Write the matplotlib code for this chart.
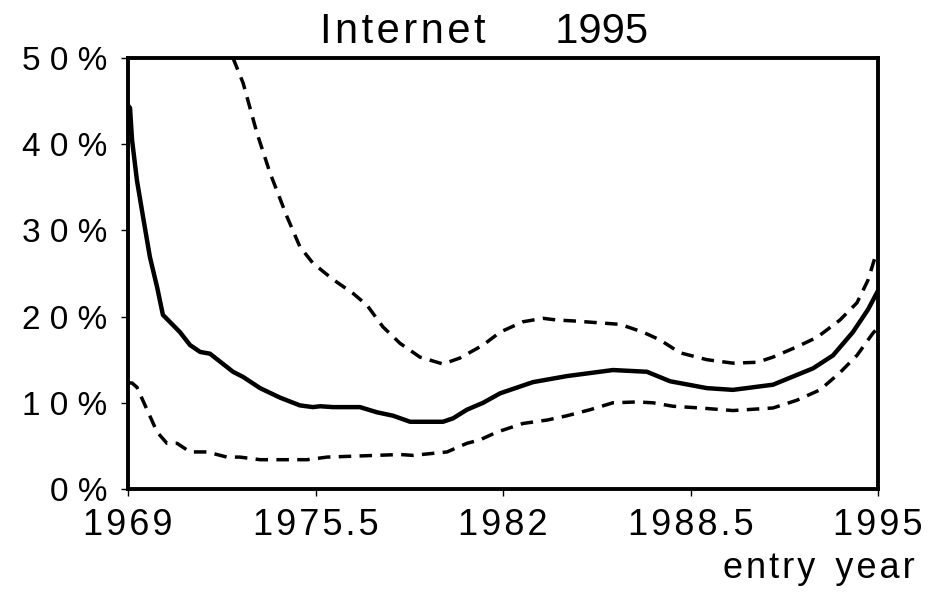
import matplotlib
matplotlib.use("Agg")
import matplotlib.pyplot as plt

# ---- data ----
years_mid = [1969.0, 1969.07, 1969.14, 1969.31, 1969.52, 1969.76, 1970.01, 1970.21,
             1970.80, 1971.15, 1971.50, 1971.84, 1972.64, 1972.99, 1973.58, 1974.27,
             1974.96, 1975.41, 1975.66, 1976.11, 1977.04, 1977.63, 1978.19, 1978.78,
             1979.92, 1980.27, 1980.75, 1981.31, 1981.90, 1983.04, 1984.22, 1985.81,
             1986.99, 1987.79, 1989.07, 1989.97, 1991.36, 1992.75, 1993.44, 1994.13,
             1994.65, 1995.0]
mid = [44.5, 44.2, 40.5, 35.8, 31.6, 26.9, 23.4, 20.2,
       18.2, 16.7, 15.9, 15.7, 13.6, 13.0, 11.7, 10.6,
       9.7, 9.5, 9.6, 9.5, 9.5, 8.9, 8.5, 7.8,
       7.8, 8.2, 9.2, 10.0, 11.1, 12.4, 13.1, 13.8,
       13.6, 12.5, 11.7, 11.5, 12.1, 14.0, 15.5, 18.2,
       20.8, 23.0]

years_up = [1972.64, 1972.99, 1973.47, 1973.92, 1974.51, 1974.96, 1975.41, 1976.11,
            1976.80, 1977.29, 1977.84, 1978.43, 1979.12, 1979.92, 1980.51, 1981.31,
            1981.90, 1982.69, 1983.39, 1983.87, 1984.43, 1986.06, 1986.85, 1987.44,
            1988.14, 1989.07, 1989.97, 1990.81, 1991.36, 1992.19, 1992.89, 1993.68,
            1994.27, 1994.65, 1994.90, 1995.0]
upper = [50.0, 47.1, 41.3, 36.7, 31.6, 28.1, 26.2, 24.3,
         22.7, 21.3, 18.8, 16.9, 15.3, 14.5, 15.2, 16.7,
         18.2, 19.4, 19.8, 19.6, 19.5, 19.1, 18.2, 17.3,
         15.8, 15.0, 14.6, 14.7, 15.3, 16.5, 17.6, 19.6,
         21.6, 24.2, 26.9, 27.5]

years_lo = [1969.0, 1969.14, 1969.31, 1969.66, 1970.01, 1970.35, 1970.70, 1971.15,
            1971.74, 1972.43, 1972.88, 1973.58, 1975.21, 1975.90, 1978.43, 1978.88,
            1980.06, 1980.75, 1981.20, 1981.79, 1982.69, 1983.53, 1984.22, 1985.02,
            1985.81, 1986.65, 1987.20, 1987.89, 1988.83, 1989.97, 1991.36, 1992.19,
            1992.99, 1993.68, 1994.27, 1994.83, 1995.0]
lower = [12.3, 12.3, 11.8, 9.2, 6.6, 5.3, 5.3, 4.3,
         4.3, 3.7, 3.7, 3.4, 3.4, 3.7, 4.0, 3.9,
         4.3, 5.3, 5.7, 6.6, 7.6, 8.0, 8.5, 9.2,
         10.0, 10.1, 10.0, 9.6, 9.4, 9.1, 9.4, 10.3,
         11.5, 13.5, 15.5, 18.1, 18.7]

x_ticks = [1969, 1975.5, 1982, 1988.5, 1995]
x_tick_labels = ["1969", "1975.5", "1982", "1988.5", "1995"]
y_ticks = [0, 10, 20, 30, 40, 50]
y_tick_labels = ["0%", "10%", "20%", "30%", "40%", "50%"]
title = "Internet 1995"
x_label = "entry year"

# ---- figure ----
plt.rcParams['font.family'] = ['Liberation Sans', 'DejaVu Sans']
fig = plt.figure(figsize=(9.41, 6.01), dpi=100)
ax = fig.add_axes([128/941, 1 - 489/601, 750/941, 431/601])

ax.plot(years_mid, mid, color='black', lw=3.2, solid_joinstyle='round')
ax.plot(years_up, upper, color='black', lw=2.5, dashes=(3.6, 2.4))
ax.plot(years_lo, lower, color='black', lw=2.5, dashes=(3.6, 2.4))

ax.set_xlim(1969, 1995)
ax.set_ylim(0, 50)

def spaced(s, sep):
    return sep.join(list(s))

HAIR = "\u200a"

ax.set_xticks(x_ticks)
ax.set_xticklabels([spaced(s, HAIR) for s in x_tick_labels], fontsize=26)
ax.set_yticks(y_ticks)
ax.set_yticklabels([spaced(s, " ") for s in y_tick_labels], fontsize=24)
ax.tick_params(axis='both', direction='out', length=5, width=1.0, color='black')
ax.tick_params(axis='x', pad=9)
ax.tick_params(axis='y', pad=10)

for sp in ax.spines.values():
    sp.set_linewidth(2.8)
    sp.set_color('black')

t_words = title.split(" ")
fig.text(320/941, 1 - 43/601, spaced(t_words[0], HAIR) + "      " + t_words[1],
         fontsize=30, ha='left', va='baseline')
xl_words = x_label.split(" ")
fig.text(915/941, 1 - 578/601, spaced(xl_words[0], HAIR) + "  " + spaced(xl_words[1], HAIR),
         fontsize=26, ha='right', va='baseline')

fig.savefig("out.png", dpi=100)
